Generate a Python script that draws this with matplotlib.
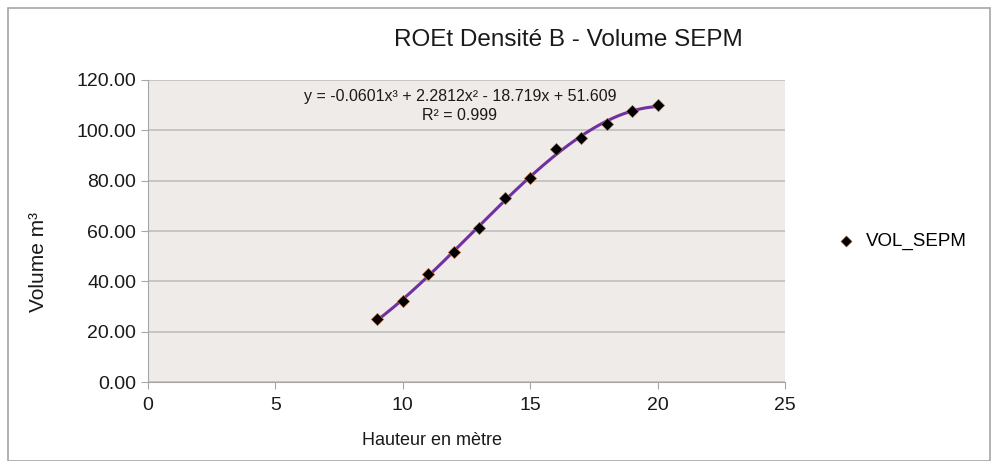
import numpy as np
import matplotlib
matplotlib.use("Agg")
import matplotlib.pyplot as plt
from matplotlib.patches import Rectangle

hauteur = [9, 10, 11, 12, 13, 14, 15, 16, 17, 18, 19, 20]
vol_sepm = [25.0, 32.0, 43.0, 51.5, 61.0, 73.0, 81.0, 92.5, 97.0, 102.5, 107.5, 110.0]
series_name = "VOL_SEPM"
title = "ROEt Densité B - Volume SEPM"
equation = "y = -0.0601x³ + 2.2812x² - 18.719x + 51.609\nR² = 0.999"

plt.rcParams['font.family'] = ['Liberation Sans', 'DejaVu Sans']

fig = plt.figure(figsize=(9.94, 4.61), dpi=100)
fig.patch.set_facecolor('white')
fig.add_artist(Rectangle((0.008, 0.0), 0.988, 0.982, transform=fig.transFigure,
                         fill=False, edgecolor='#A6A6A6', linewidth=1.2))

ax = fig.add_axes([148/994, 1 - 382/461, (785-148)/994, (382-80)/461])
ax.set_facecolor('#EFEBE8')

coef = np.polyfit(hauteur, vol_sepm, 3)
xs = np.linspace(min(hauteur), max(hauteur), 200)
ax.plot(xs, np.polyval(coef, xs), color='#7030A0', linewidth=2.2, zorder=2)
ax.scatter(hauteur, vol_sepm, marker='D', s=40, color='black', edgecolors='#C0703A',
           linewidths=0.4, zorder=3, label=series_name)

ax.set_xlim(0, 25)
ax.set_ylim(0, 120)
ax.set_xticks(range(0, 26, 5))
ax.set_yticks(range(0, 121, 20))
ax.set_yticklabels([f"{v:.2f}" for v in range(0, 121, 20)])
ax.yaxis.grid(True, color='#BFBFBF', linewidth=1.2)
ax.set_axisbelow(True)
for s in ['top', 'right']:
    ax.spines[s].set_visible(False)
for s in ['left', 'bottom']:
    ax.spines[s].set_color('#A6A6A6')
ax.tick_params(axis='both', colors='#A6A6A6', labelcolor='#1a1a1a', labelsize=14, length=5)
ax.tick_params(axis='x', pad=6)

fig.text(432/994, 1 - 440/461, "Hauteur en mètre", ha='center', va='center', fontsize=13,
         color='#1a1a1a')
fig.text(38/994, 1 - 262/461, "Volume m³", ha='center', va='center', fontsize=15,
         rotation=90, color='#1a1a1a')

fig.text(568/994, 1 - 40/461, title, ha='center', va='center', fontsize=17.5, color='#1a1a1a')
fig.text(460/994, 1 - 106/461, equation, ha='center', va='center',
         fontsize=11.5, linespacing=1.3, color='#1a1a1a')

fig.legend(handles=[ax.collections[0]], labels=[series_name], loc='center left',
           bbox_to_anchor=(810/994, 1 - 241/461), frameon=False, fontsize=13.5,
           handletextpad=0.1, markerscale=0.9)

fig.savefig("out.png", dpi=100)
